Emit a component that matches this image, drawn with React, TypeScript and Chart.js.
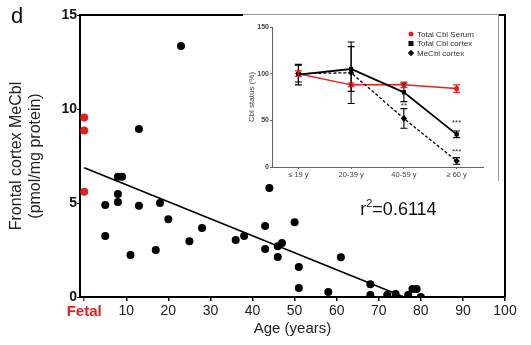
import React, { useEffect, useRef } from "react";
import { Chart, registerables } from "chart.js";
Chart.register(...registerables);

// ---------- Main scatter data ----------
const fetalAge = [0, 0, 0];
const fetalMeCbl = [9.55, 8.85, 5.6];
const adultAge = [8, 9, 5, 5, 8, 8, 13, 13, 23, 11, 18, 20, 17, 25, 28, 36, 38, 43, 43, 44, 50, 46, 47, 46, 51, 51, 58, 61, 68, 68, 72, 74, 74, 77, 77, 78, 79, 80];
const adultMeCbl = [6.4, 6.4, 4.9, 3.25, 5.48, 5.05, 4.85, 8.94, 13.35, 2.23, 5.0, 4.13, 2.5, 2.97, 3.67, 3.03, 3.25, 3.78, 2.55, 5.8, 3.98, 2.7, 2.87, 2.13, 1.6, 0.48, 0.26, 2.12, 0.68, 0.1, 0.1, 0.16, 0.0, 0.1, 0.0, 0.42, 0.42, 0.0];
const fitAge = [0, 76];
const fitMeCbl = [6.88, 0];
const xTickValues = [0, 10, 20, 30, 40, 50, 60, 70, 80, 90, 100];
const yTickValues = [0, 5, 10, 15];
const rSquaredText = "=0.6114";

// ---------- Inset data ----------
const insetGroups = ["≤ 19 y", "20-39 y", "40-59 y", "≥ 60 y"];
const insetPos = [1, 2, 3, 4];
const serumTotal = [100, 88, 88, 84];
const serumErr = [3, 2, 3, 4];
const cortexTotal = [99, 105, 80, 35];
const cortexErr = [11, 24, 10, 3.5];
const cortexMeCbl = [100, 101, 52, 6.5];
const cortexMeCblErr = [9, 33, 10.5, 3.5];
const starLabels = [
  { group: 3, value: 66, text: "**" },
  { group: 4, value: 47, text: "***" },
  { group: 4, value: 16, text: "***" },
];

const RED = "#e3201c";
const FONT = "'Liberation Sans', Arial, sans-serif";

export default function App() {
  const mainRef = useRef<HTMLCanvasElement>(null);
  const insetRef = useRef<HTMLCanvasElement>(null);

  useEffect(() => {
    document.body.style.margin = "0";
    const framePlugin = {
      id: "frame",
      afterDraw(chart: any) {
        const { ctx, chartArea: a, scales } = chart;
        ctx.save();
        ctx.strokeStyle = "#000";
        ctx.lineWidth = 2;
        ctx.beginPath();
        ctx.moveTo(a.left, a.top);
        ctx.lineTo(a.right, a.top);
        ctx.lineTo(a.right, a.bottom);
        ctx.stroke();
        // panel letter
        ctx.fillStyle = "#111";
        ctx.font = `22px ${FONT}`;
        ctx.textBaseline = "alphabetic";
        ctx.textAlign = "left";
        ctx.fillText("d", 11, 23);
        // r^2 annotation
        const x0 = scales.x.getPixelForValue(65.6);
        const y0 = scales.y.getPixelForValue(4.35);
        ctx.fillStyle = "#111";
        ctx.font = `18px ${FONT}`;
        ctx.fillText("r", x0, y0);
        let w = ctx.measureText("r").width;
        ctx.font = `11px ${FONT}`;
        ctx.fillText("2", x0 + w, y0 - 8);
        w += ctx.measureText("2").width;
        ctx.font = `18px ${FONT}`;
        ctx.fillText(rSquaredText, x0 + w, y0);
        ctx.restore();
      },
    };

    const main = new Chart(mainRef.current!, {
      type: "scatter",
      data: {
        datasets: [
          {
            type: "line",
            data: fitAge.map((a, i) => ({ x: a, y: fitMeCbl[i] })),
            borderColor: "#000",
            borderWidth: 1.6,
            pointRadius: 0,
            fill: false,
          } as any,
          {
            data: adultAge.map((a, i) => ({ x: a, y: adultMeCbl[i] })),
            backgroundColor: "#000",
            borderColor: "#000",
            pointRadius: 4,
            borderWidth: 0,
          },
          {
            data: fetalAge.map((a, i) => ({ x: a, y: fetalMeCbl[i] })),
            backgroundColor: RED,
            borderColor: RED,
            pointRadius: 4,
            borderWidth: 0,
          },
        ],
      },
      options: {
        animation: false,
        responsive: false,
        maintainAspectRatio: false,
        layout: { padding: { top: 15, right: 26, left: 0, bottom: 0 } },
        plugins: { legend: { display: false }, tooltip: { enabled: false } },
        scales: {
          x: {
            type: "linear",
            min: -1,
            max: 100,
            afterBuildTicks: (s: any) => {
              s.ticks = xTickValues.map((v) => ({ value: v }));
            },
            afterFit: (s: any) => {
              s.height = 48;
            },
            grid: {
              display: true,
              drawOnChartArea: false,
              drawTicks: true,
              tickLength: 4,
              lineWidth: 1.5,
              color: (c: any) => (c.tick && c.tick.value === 0 ? RED : "#000"),
            },
            border: { display: true, width: 2, color: "#000" },
            ticks: {
              autoSkip: false,
              maxRotation: 0,
              padding: 2,
              callback: (v: any) => (v === 0 ? "Fetal" : String(v)),
              color: (c: any) => (c.tick && c.tick.value === 0 ? RED : "#222"),
              font: (c: any) =>
                c.tick && c.tick.value === 0
                  ? { family: FONT, size: 15, weight: "bold" }
                  : { family: FONT, size: 14 },
            },
            title: {
              display: true,
              text: "Age (years)",
              color: "#222",
              font: { family: FONT, size: 15 },
              padding: { top: 0, bottom: 7 },
            },
          } as any,
          y: {
            min: 0,
            max: 15,
            afterBuildTicks: (s: any) => {
              s.ticks = yTickValues.map((v) => ({ value: v }));
            },
            afterFit: (s: any) => {
              s.width = 80;
            },
            grid: {
              display: true,
              drawOnChartArea: false,
              drawTicks: true,
              tickLength: 3,
              color: "#000",
            },
            border: { display: true, width: 2, color: "#000" },
            ticks: {
              padding: 0,
              color: "#111",
              font: { family: FONT, size: 14, weight: "bold" },
            },
            title: {
              display: true,
              text: ["Frontal cortex MeCbl", "(pmol/mg protein)"],
              color: "#222",
              font: { family: FONT, size: 16 },
              padding: { top: 7, bottom: 0 },
            },
          } as any,
        },
      },
      plugins: [framePlugin],
    });

    // ---------- Inset ----------
    const errorPlugin = {
      id: "errbars",
      afterDatasetsDraw(chart: any) {
        const { ctx, scales } = chart;
        ctx.save();
        chart.data.datasets.forEach((ds: any) => {
          if (!ds.errors) return;
          ctx.strokeStyle = ds.borderColor;
          ctx.lineWidth = 1.1;
          ds.data.forEach((p: any, i: number) => {
            const x = scales.x.getPixelForValue(p.x);
            const yt = scales.y.getPixelForValue(p.y + ds.errors[i]);
            const yb = scales.y.getPixelForValue(p.y - ds.errors[i]);
            ctx.beginPath();
            ctx.moveTo(x, yt);
            ctx.lineTo(x, yb);
            ctx.moveTo(x - 3.5, yt);
            ctx.lineTo(x + 3.5, yt);
            ctx.moveTo(x - 3.5, yb);
            ctx.lineTo(x + 3.5, yb);
            ctx.stroke();
          });
        });
        // significance stars
        ctx.fillStyle = "#333";
        ctx.font = `8px ${FONT}`;
        ctx.textAlign = "center";
        ctx.textBaseline = "middle";
        starLabels.forEach((s) => {
          ctx.fillText(s.text, scales.x.getPixelForValue(s.group), scales.y.getPixelForValue(s.value));
        });
        // legend
        const a = chart.chartArea;
        const lx = a.right - 72;
        const rows = [a.top + 7, a.top + 16.5, a.top + 26];
        const names = ["Total Cbl Serum", "Total Cbl cortex", "MeCbl cortex"];
        ctx.textAlign = "left";
        ctx.font = `8px ${FONT}`;
        rows.forEach((y, i) => {
          ctx.fillStyle = i === 0 ? RED : "#000";
          ctx.beginPath();
          if (i === 0) ctx.arc(lx, y, 2.5, 0, Math.PI * 2);
          else if (i === 1) ctx.rect(lx - 2.5, y - 2.5, 5, 5);
          else {
            ctx.moveTo(lx, y - 3.2);
            ctx.lineTo(lx + 3.2, y);
            ctx.lineTo(lx, y + 3.2);
            ctx.lineTo(lx - 3.2, y);
            ctx.closePath();
          }
          ctx.fill();
          ctx.fillStyle = "#333";
          ctx.fillText(names[i], lx + 6, y + 0.5);
        });
        ctx.restore();
      },
    };

    const inset = new Chart(insetRef.current!, {
      type: "line",
      data: {
        datasets: [
          {
            data: insetPos.map((p, i) => ({ x: p, y: cortexMeCbl[i] })),
            errors: cortexMeCblErr,
            borderColor: "#000",
            backgroundColor: "#000",
            borderWidth: 1.3,
            borderDash: [3, 2],
            pointStyle: "rectRot",
            pointRadius: 3.2,
            pointBorderWidth: 0,
          } as any,
          {
            data: insetPos.map((p, i) => ({ x: p, y: cortexTotal[i] })),
            errors: cortexErr,
            borderColor: "#000",
            backgroundColor: "#000",
            borderWidth: 1.8,
            pointStyle: "rect",
            pointRadius: 3,
            pointBorderWidth: 0,
          } as any,
          {
            data: insetPos.map((p, i) => ({ x: p, y: serumTotal[i] })),
            errors: serumErr,
            borderColor: RED,
            backgroundColor: RED,
            borderWidth: 1.5,
            pointStyle: "circle",
            pointRadius: 2.6,
            pointBorderWidth: 0,
          } as any,
        ],
      },
      options: {
        animation: false,
        responsive: false,
        maintainAspectRatio: false,
        layout: { padding: { top: 13, right: 16, left: 0, bottom: 0 } },
        plugins: { legend: { display: false }, tooltip: { enabled: false } },
        scales: {
          x: {
            type: "linear",
            min: 0.5,
            max: 4.5,
            afterBuildTicks: (s: any) => {
              s.ticks = insetPos.map((v) => ({ value: v }));
            },
            afterFit: (s: any) => {
              s.height = 14;
            },
            grid: { display: true, drawOnChartArea: false, tickLength: 2, color: "#666" },
            border: { display: true, width: 1, color: "#666" },
            ticks: {
              autoSkip: false,
              maxRotation: 0,
              padding: 1,
              color: "#444",
              font: { family: FONT, size: 7.5 },
              callback: (v: any) => insetGroups[insetPos.indexOf(v)] ?? "",
            },
          } as any,
          y: {
            min: 0,
            max: 150,
            afterBuildTicks: (s: any) => {
              s.ticks = [0, 50, 100, 150].map((v) => ({ value: v }));
            },
            afterFit: (s: any) => {
              s.width = 29;
            },
            grid: { display: true, drawOnChartArea: false, tickLength: 2, color: "#666" },
            border: { display: true, width: 1, color: "#666" },
            ticks: { padding: 1, color: "#444", font: { family: FONT, size: 7, weight: "bold" } },
            title: {
              display: true,
              text: "Cbl status (%)",
              color: "#444",
              font: { family: FONT, size: 8 },
              padding: { top: 4, bottom: 0 },
            },
          } as any,
        },
      },
      plugins: [errorPlugin],
    });

    return () => {
      main.destroy();
      inset.destroy();
    };
  }, []);

  return (
    <div style={{ position: "relative", width: 531, height: 345, background: "#fff" }}>
      <canvas ref={mainRef} width={531} height={345} style={{ position: "absolute", left: 0, top: 0 }} />
      <div
        style={{
          position: "absolute",
          left: 243,
          top: 14,
          width: 256,
          height: 167,
          background: "#fff",
          boxSizing: "border-box",
          borderTop: "1px solid #999",
          borderRight: "1px solid #999",
        }}
      />
      <canvas
        ref={insetRef}
        width={256}
        height={167}
        style={{ position: "absolute", left: 243, top: 14 }}
      />
    </div>
  );
}
